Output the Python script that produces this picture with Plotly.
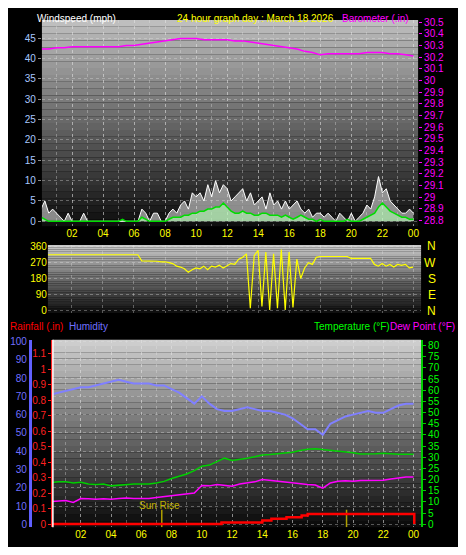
import plotly.graph_objects as go

# time axes (hours from midnight)
t_quarter = [i * 0.25 for i in range(97)]
t_half = [i * 0.5 for i in range(49)]

hour_ticks = [2, 4, 6, 8, 10, 12, 14, 16, 18, 20, 22, 24]
hour_labels = ["02", "04", "06", "08", "10", "12", "14", "16", "18", "20", "22", "00"]

# windspeed (mph), quarter hourly
wind_gust = [3, 5, 2, 3, 2, 1, 0, 2, 0, 0, 0, 2, 0, 0, 0, 0, 0, 0, 0, 0,
             0, 0, 0, 0, 0, 0, 3, 2, 0, 2, 2, 0, 0, 2, 3, 2, 4, 5, 3, 7,
             6, 7, 5, 9, 6, 10, 7, 9, 8, 5, 6, 7, 8, 5, 7, 4, 5, 6, 3, 7,
             4, 5, 3, 5, 3, 4, 5, 3, 2, 3, 1, 2, 2, 1, 2, 1, 0, 2, 1, 0,
             2, 0, 1, 2, 4, 3, 6, 11, 7, 8, 5, 4, 3, 2, 2, 3, 2]
wind_avg = [1, 0.5, 0, 0, 0, 0, 0, 0, 0, 0, 0, 0, 0, 0, 0, 0, 0, 0, 0, 0,
            0, 0.5, 0, 0, 0, 0, 1, 0.5, 0, 0, 0, 0, 0, 0.5, 1, 1, 1, 1.5, 1.5, 2,
            2, 2.5, 2.5, 3, 3, 3.5, 3.5, 4.5, 3.5, 2.5, 2, 2, 2.5, 2, 2, 1.5, 1.5, 2, 2, 1.5,
            1.5, 1.5, 1, 1.5, 1, 0.5, 1, 1.5, 1, 0.5, 0.5, 0, 0.5, 0, 0, 0, 0, 0, 0, 0.5,
            0, 0, 0, 0.5, 1, 1.5, 2, 3.5, 4.5, 3.5, 2.5, 2, 1.5, 1, 1, 0.5, 0.5]

# barometer (in), half hourly
barometer = [30.27, 30.27, 30.28, 30.28, 30.29, 30.29, 30.29, 30.29, 30.29, 30.29,
             30.29, 30.30, 30.30, 30.31, 30.32, 30.33, 30.34, 30.35, 30.36, 30.36,
             30.36, 30.35, 30.35, 30.35, 30.35, 30.34, 30.34, 30.33, 30.32, 30.31,
             30.30, 30.29, 30.28, 30.27, 30.25, 30.24, 30.22, 30.23, 30.23, 30.23,
             30.23, 30.23, 30.24, 30.24, 30.24, 30.23, 30.23, 30.22, 30.21]

# wind direction (degrees), quarter hourly
wind_dir = [330, 320, 315, 315, 315, 315, 315, 315, 315, 315, 315, 315, 315, 315, 315, 315,
            315, 315, 315, 315, 315, 315, 315, 315, 315, 315, 280, 280, 278, 278, 278, 275,
            275, 270, 265, 250, 245, 235, 215, 230, 240, 235, 250, 230, 250, 245, 255, 240,
            255, 265, 260, 290, 300, 320, 10, 310, 340, 20, 330, 0, 320, 10, 345, 0,
            330, 15, 290, 180, 240, 270, 260, 300, 305, 305, 305, 305, 305, 305, 305, 305,
            295, 295, 295, 295, 295, 295, 260, 250, 265, 250, 260, 245, 260, 255, 260, 240, 245]

# bottom panel, half hourly
humidity = [71, 72, 73, 74, 75, 75, 76, 77, 78, 79, 78, 77, 77, 77, 76, 76, 74, 72, 69, 66,
            70, 66, 63, 62, 62, 63, 64, 63, 62, 62, 61, 60, 58, 55, 52, 52, 49, 55, 57, 59,
            60, 61, 62, 61, 61, 63, 65, 66, 66]
temperature = [18.6, 19, 19, 18.5, 18.8, 18, 17.8, 18, 17.2, 17.5, 18, 18, 18, 18, 18.5, 19.2,
               20.5, 21.5, 22.5, 24, 26, 26.5, 28, 29.6, 28.6, 29, 29.6, 30.2, 31, 31.2, 31.5, 32,
               32.2, 33, 33.6, 33.8, 33.5, 33.2, 32.8, 32.5, 32, 31.5, 31.4, 31.6, 31.8, 31.5,
               31.4, 31.4, 31.4]
dew_point = [10.2, 10.5, 10.6, 9.8, 11.5, 11.4, 11.2, 11.4, 11.2, 11.6, 11.8, 11.6, 11.5, 11.6,
             12, 12.4, 13, 13.5, 13.8, 14, 17.4, 17.2, 17.8, 17.5, 17, 18, 18.6, 19, 20, 19.6,
             19.3, 19, 18.4, 18, 17.8, 17.6, 16.2, 18.5, 19.3, 19.5, 19.3, 19.6, 19.7, 19.5,
             19.7, 20.3, 20.8, 21.2, 21.2]
rain_t = [0, 11.3, 14.0, 14.6, 15.6, 16.6, 17.0, 24.0, 24.05]
rain = [0, 0.01, 0.023, 0.034, 0.045, 0.055, 0.066, 0.066, 0]
sun_events = [7.35, 19.57]

# page has an 8px body margin, so the figure is sized to fit inside it
OFF = 8
W, H = 466 - 2 * OFF, 555 - 2 * OFF


def px_x(p):
    return (p - OFF) / W


def px_y(p):
    return 1 - (p - OFF) / H


fig = go.Figure()

# top panel
fig.add_trace(go.Scatter(x=t_quarter, y=wind_gust, mode="lines", line=dict(color="white", width=1),
                         fill="tozeroy", fillcolor="rgba(235,235,235,0.55)", xaxis="x", yaxis="y"))
fig.add_trace(go.Scatter(x=t_quarter, y=wind_avg, mode="lines", line=dict(color="#00dd00", width=1.5),
                         fill="tozeroy", fillcolor="rgba(180,255,180,0.6)", xaxis="x", yaxis="y"))
fig.add_trace(go.Scatter(x=t_half, y=barometer, mode="lines", line=dict(color="#ff00ff", width=1.5),
                         xaxis="x", yaxis="y2"))
# direction panel
fig.add_trace(go.Scatter(x=t_quarter, y=wind_dir, mode="lines", line=dict(color="#ffff00", width=1.2),
                         xaxis="x2", yaxis="y3"))
# bottom panel
fig.add_trace(go.Scatter(x=t_half, y=humidity, mode="lines", line=dict(color="#8080ff", width=2),
                         xaxis="x3", yaxis="y5"))
fig.add_trace(go.Scatter(x=t_half, y=temperature, mode="lines", line=dict(color="#00d000", width=1.5),
                         xaxis="x3", yaxis="y4"))
fig.add_trace(go.Scatter(x=t_half, y=dew_point, mode="lines", line=dict(color="#ff00ff", width=1.5),
                         xaxis="x3", yaxis="y4"))
for s in sun_events:
    fig.add_trace(go.Scatter(x=[s, s], y=[-1.3, 6.5], mode="lines", line=dict(color="#b0a000", width=1.5),
                             xaxis="x3", yaxis="y4"))
fig.add_trace(go.Scatter(x=rain_t, y=rain, mode="lines", line=dict(color="#ff0000", width=2.5, shape="hv"),
                         xaxis="x3", yaxis="y6"))

# gradient backgrounds
shapes = []
panels = [((42, 419, 16, 225), 190, 15), ((48, 422, 244, 313), 200, 15), ((53, 422, 340, 530), 205, 12)]
for (x0, x1, y0, y1), c_top, c_bot in panels:
    n = 30
    for i in range(n):
        c = int(c_top + (c_bot - c_top) * i / (n - 1))
        shapes.append(dict(type="rect", xref="paper", yref="paper", layer="below", line_width=0,
                           x0=px_x(x0), x1=px_x(x1),
                           y0=px_y(y0 + (y1 - y0) * (i + 1) / n), y1=px_y(y0 + (y1 - y0) * i / n),
                           fillcolor=f"rgb({c},{c},{c})"))
shapes.append(dict(type="line", xref="paper", yref="paper", x0=px_x(53), x1=px_x(53),
                   y0=px_y(530), y1=px_y(340), line=dict(color="white", width=1.5)))

grid = "rgba(230,230,230,0.35)"
font = "Liberation Sans"
tickfont = dict(family=font, size=10, color="#ffff00")

xcommon = dict(tickvals=hour_ticks, ticktext=hour_labels, showgrid=True, gridcolor=grid, griddash="dot",
               minor=dict(dtick=1, tick0=0, showgrid=True, gridcolor=grid, griddash="dot"),
               zeroline=False, tickfont=tickfont, ticks="")

fig.update_layout(
    width=W, height=H, margin=dict(l=0, r=0, t=0, b=0),
    paper_bgcolor="black", plot_bgcolor="black", showlegend=False, shapes=shapes,
    xaxis=dict(domain=[px_x(42), px_x(419)], range=[0.06, 24.3], anchor="y", **xcommon),
    yaxis=dict(domain=[px_y(225), px_y(16)], range=[-1.2, 49.5], dtick=5, tick0=0,
               tickfont=dict(family=font, size=10, color="#a8c8ff"), showgrid=True,
               gridcolor=grid, griddash="dot", zeroline=False, ticks="outside", ticklen=3,
               tickcolor="#888888"),
    yaxis2=dict(overlaying="y", side="right", range=[28.75, 30.52],
                tickvals=[28.8, 28.9, 29.0, 29.1, 29.2, 29.3, 29.4, 29.5, 29.6, 29.7, 29.8, 29.9,
                          30.0, 30.1, 30.2, 30.3, 30.4, 30.5],
                ticktext=["28.8", "28.9", "29", "29.1", "29.2", "29.3", "29.4", "29.5", "29.6", "29.7",
                          "29.8", "29.9", "30", "30.1", "30.2", "30.3", "30.4", "30.5"],
                tickfont=dict(family=font, size=10, color="#ff00ff"), showgrid=False,
                ticks="outside", ticklen=3, tickcolor="#ff00ff"),
    xaxis2=dict(domain=[px_x(48), px_x(422)], range=[0.45, 24.51], anchor="y3",
                tickvals=hour_ticks, showticklabels=False, showgrid=True, gridcolor=grid,
                griddash="dot", zeroline=False, ticks=""),
    yaxis3=dict(domain=[px_y(313), px_y(244)], range=[-17, 371], anchor="x2",
                tickvals=[0, 90, 180, 270, 360], tickfont=dict(family=font, size=10, color="#ffff00"),
                showgrid=True, gridcolor=grid, griddash="dot", zeroline=False),
    xaxis3=dict(domain=[px_x(53), px_x(422)], range=[0.15, 24.5], anchor="y4", **xcommon),
    yaxis4=dict(domain=[px_y(530), px_y(340)], range=[-1.3, 82.6], anchor="x3", side="right",
                dtick=5, tick0=0, tickfont=dict(family=font, size=10, color="#00ff00"),
                showgrid=False, zeroline=False, showline=True, linecolor="#00cc00", linewidth=2,
                ticks="outside", ticklen=3, tickcolor="#00cc00"),
    yaxis5=dict(overlaying="y4", anchor="free", position=px_x(30), side="left", range=[-1.6, 101],
                dtick=10, tick0=0, tickfont=dict(family=font, size=10, color="#7070ff"),
                showgrid=True, gridcolor=grid, griddash="dot", zeroline=False, showline=True,
                linecolor="#6060ff", linewidth=3, ticks=""),
    yaxis6=dict(overlaying="y4", anchor="free", position=px_x(52), side="left", range=[-0.02, 1.19],
                tickvals=[0, 0.1, 0.2, 0.3, 0.4, 0.5, 0.6, 0.7, 0.8, 0.9, 1.0, 1.1],
                ticktext=["0", "0.1", "0.2", "0.3", "0.4", "0.5", "0.6", "0.7", "0.8", "0.9", "1", "1.1"],
                tickfont=dict(family=font, size=10, color="#ff2020"), showgrid=False, zeroline=False,
                showline=True, linecolor="#ff2020", linewidth=1.5, ticks="outside", ticklen=3,
                tickcolor="#ff2020"),
)

ann = [
    ("Windspeed (mph)", 35, 15, "white", "left"),
    ("24 hour graph day : March 18 2026", 256, 15, "#ffff00", "center"),
    ("Barometer (.in)", 412, 15, "#ff00ff", "right"),
    ("Rainfall (.in)", 8, 327, "#ff0000", "left"),
    ("Humidity", 67, 327, "#7070ff", "left"),
    ("Temperature (°F)", 313, 327, "#00ff00", "left"),
    ("Dew Point (°F)", 458, 327, "#ff00ff", "right"),
    ("Sun Rise", 160, 508, "#c0b000", "center"),
]
for text, x, y, color, align in ann:
    fig.add_annotation(text=text, x=px_x(x), y=px_y(y), xref="paper", yref="paper", showarrow=False,
                       xanchor=align, yanchor="middle", font=dict(family=font, size=10, color=color))
for label, y in zip(["N", "W", "S", "E", "N"], [245, 262, 279, 295, 311]):
    fig.add_annotation(text=label, x=px_x(439), y=px_y(y), xref="paper", yref="paper", showarrow=False,
                       font=dict(family=font, size=12, color="#ffff00"))

fig.write_html("out.html")
